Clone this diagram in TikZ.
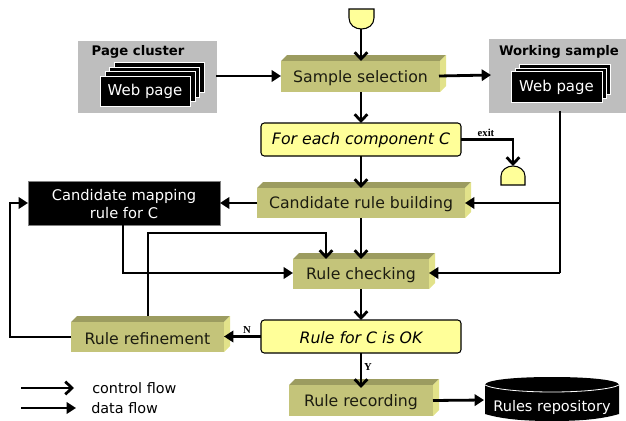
\documentclass[tikz,border=0pt]{standalone}
\usepackage{fontspec}
\setmainfont{DejaVu Sans}
\newfontfamily\labfont{Liberation Serif}
\usetikzlibrary{arrows.meta,fit,calc}
\definecolor{olive}{HTML}{C4C47A}
\definecolor{olivetop}{HTML}{9C9C60}
\definecolor{oliveside}{HTML}{E2E28A}
\definecolor{paleyellow}{HTML}{FFFF99}
\definecolor{panelgrey}{HTML}{BEBEBE}
\definecolor{inkdark}{HTML}{1C1C10}
\tikzset{
  x=0.75pt,y=-0.75pt,
  flowline/.style={line width=2.1pt,draw=black,line join=miter},
  ctrl/.style={flowline,-{Straight Barb[length=5pt,width=9.5pt,line width=2.1pt]}},
  dataf/.style={flowline,-{Triangle[length=7pt,width=8.5pt]}},
  plain/.style={flowline},
  front/.style={inner sep=0pt,outer sep=0pt,fill=olive},
  boxtext/.style={inner sep=0pt,yshift=-0.9pt,text=inkdark,font=\fontsize{11.8pt}{14pt}\selectfont},
  decision/.style={inner sep=0pt,outer sep=0pt,fill=paleyellow,draw=black,line width=0.8pt,rounded corners=2.5pt},
  decisiontext/.style={inner sep=0pt,yshift=-0.6pt,font=\fontsize{11.8pt}{14pt}\selectfont\itshape},
  panel/.style={inner sep=0pt,outer sep=0pt,fill=panelgrey},
  sheet/.style={inner sep=0pt,outer sep=0pt,fill=black,draw=white,line width=0.6pt},
  sheettext/.style={inner sep=0pt,yshift=-0.6pt,text=white,font=\fontsize{11.2pt}{14pt}\selectfont},
  blackbox/.style={inner sep=0pt,outer sep=0pt,fill=black,draw=gray,line width=0.5pt},
  blacktext/.style={inner sep=0pt,yshift=-0.6pt,text=white,align=center,font=\fontsize{11pt}{13.5pt}\selectfont},
  paneltitle/.style={inner sep=0pt,font=\fontsize{9.9pt}{12pt}\selectfont\bfseries},
  terminal/.style={fill=paleyellow,draw=black,line width=0.8pt},
  smalllabel/.style={inner sep=0pt,font=\labfont\fontsize{8pt}{9pt}\selectfont\bfseries},
  legendtext/.style={inner sep=0pt,anchor=west,font=\fontsize{10.8pt}{13pt}\selectfont},
}
% name, left, top (of bevel), front right, bottom, text
\newcommand{\bevelbox}[6]{%
  \fill[olivetop] (#2,#3+6) -- (#2+6,#3) -- (#4+6,#3) -- (#4,#3+6) -- cycle;
  \fill[oliveside] (#4,#3+6) -- (#4+6,#3) -- (#4+6,#5-6) -- (#4,#5) -- cycle;
  \node[front,fit={(#2,#3+6)(#4,#5)}] (#1) {};
  \node[boxtext] (#1text) at (#1.center) {#6};
}
\begin{document}
\begin{tikzpicture}
\useasboundingbox (0,0) rectangle (626,421);

% panels
\node[panel,fit={(78,41)(217,113)}] (cluster) {};
\node[paneltitle] (clustertitle) at (138,52) {Page cluster};
\node[sheet,fit={(114,62)(204,92)}] (cp4) {};
\node[sheet,fit={(109,67)(199,97)}] (cp3) {};
\node[sheet,fit={(105,71)(195,101)}] (cp2) {};
\node[sheet,fit={(100,76)(190,106)}] (cp1) {};
\node[sheettext] (cp1text) at (cp1.center) {Web page};

\node[panel,fit={(489,39)(626,113)}] (working) {};
\node[paneltitle] (workingtitle) at (559,52) {Working sample};
\node[sheet,fit={(519,64)(610,94)}] (wp3) {};
\node[sheet,fit={(515,68)(606,98)}] (wp2) {};
\node[sheet,fit={(511,71)(602,102)}] (wp1) {};
\node[sheettext] (wp1text) at (wp1.center) {Web page};

% process boxes
\bevelbox{sel}{281}{55}{440}{92}{Sample selection}
\bevelbox{cand}{257}{182}{465}{218}{Candidate rule building}
\bevelbox{check}{293}{253}{429}{289}{Rule checking}
\bevelbox{refine}{71}{316}{224}{352}{Rule refinement}
\bevelbox{record}{289}{379}{433}{416}{Rule recording}

% decisions
\node[decision,fit={(261,123)(461,156)}] (each) {};
\node[decisiontext] (eachtext) at (each.center) {For each component C};
\node[decision,fit={(261,320)(461,353)}] (ok) {};
\node[decisiontext] (oktext) at (ok.center) {Rule for C is OK};

% black mapping box
\node[blackbox,fit={(28,181)(220,225)}] (map) {};
\node[blacktext] (maptext) at (map.center) {Candidate mapping\\rule for C};

% terminals
\draw[terminal] (349,9) -- (374,9) -- (374,18) .. controls (374,25) and (368,29) .. (361.5,29) .. controls (355,29) and (349,25) .. (349,18) -- cycle;
\coordinate (start) at (361,29);
\draw[terminal] (501,185) -- (525,185) -- (525,176) .. controls (525,170) and (519,166) .. (513,166) .. controls (507,166) and (501,170) .. (501,176) -- cycle;
\coordinate (stop) at (513,166);

% repository
\fill[black] (485,385) -- (485,414) .. controls (505,420) and (530,421) .. (552,421) .. controls (574,421) and (599,420) .. (619,414) -- (619,385) .. controls (619,380) and (590,377) .. (552,377) .. controls (514,377) and (485,380) .. (485,385) -- cycle;
\draw[white,line width=0.6pt] (485,385) .. controls (492,389) and (520,392) .. (552,392) .. controls (584,392) and (612,389) .. (619,385);
\node[inner sep=0pt,text=white,font=\fontsize{10.9pt}{13pt}\selectfont] (repo) at (552,407) {Rules repository};
\coordinate (repoin) at (484,400);

% control flow
\draw[ctrl] (start) -- (start |- sel.north);
\draw[ctrl] (361,92) -- (361,123);
\draw[ctrl] (361,156) -- (361,0 |- cand.north);
\draw[ctrl] (361,218) -- (361,0 |- check.north);
\draw[ctrl] (361,289) -- (361,0 |- ok.north);
\draw[ctrl,shorten >=-2.2pt] (361,353) -- (361,0 |- record.north);
\draw[ctrl] (each.east) -| (stop);
\draw[ctrl] (148,316) -- (148,233) -| (326,0 |- check.north);

% data flow
\draw[dataf] (216,76) -- (sel.west |- 0,76);
\draw[dataf] (439,76) -- (491,75);
\draw[plain] (560,111) -- (560,273);
\draw[dataf] (560,203) -- (cand.east);
\draw[dataf] (560,273) -- (check.east |- 0,273);
\draw[dataf] (cand.west) -- (map.east |- cand.west);
\draw[dataf] (123,225) |- (check.west |- 0,273);
\draw[dataf] (refine.west) -- (10,337) |- (map.west |- 0,203);
\draw[dataf] (ok.west) -- (refine.east |- ok.west);
\draw[dataf] (record.east) -- (repoin);

% small labels
\node[smalllabel] (exitlabel) at (486,133) {exit};
\node[smalllabel] (nlabel) at (247,330) {N};
\node[smalllabel] (ylabel) at (368,367) {Y};

% legend
\coordinate (l1a) at (21,388); \coordinate (l1b) at (74,388);
\coordinate (l2a) at (21,408); \coordinate (l2b) at (76,408);
\draw[ctrl] (l1a) -- (l1b);
\draw[dataf] (l2a) -- (l2b);
\node[legendtext] (lt1) at (92,388) {control flow};
\node[legendtext] (lt2) at (91,408) {data flow};
\end{tikzpicture}
\end{document}
